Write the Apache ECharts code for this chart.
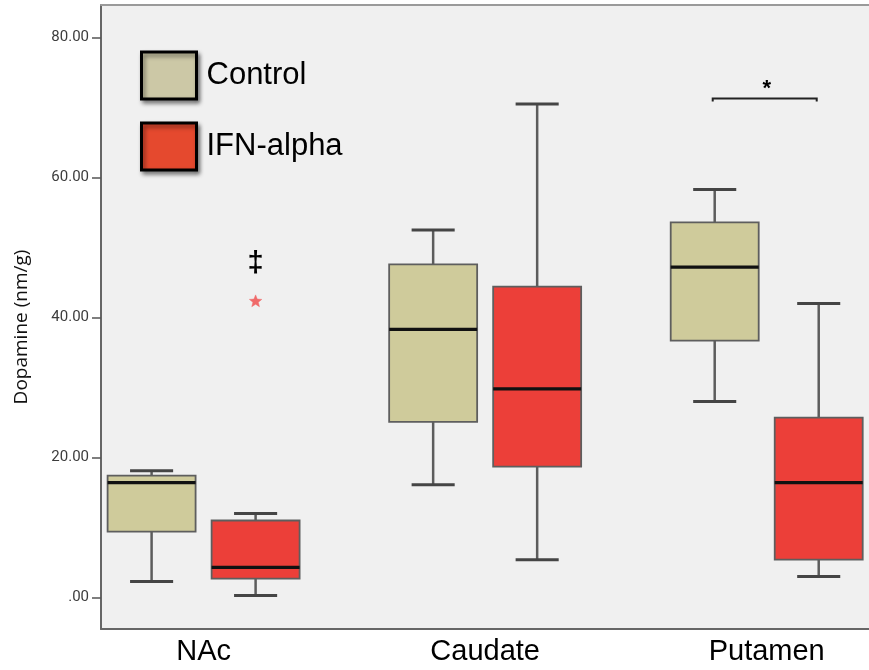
<!DOCTYPE html>
<html>
<head>
<meta charset="utf-8">
<script src="https://cdn.jsdelivr.net/npm/echarts@6/dist/echarts.min.js"></script>
<style>
  html, body { margin: 0; padding: 0; background: #ffffff; }
  #chart { width: 869px; height: 670px; }
</style>
</head>
<body>
<div id="chart"></div>
<script>
// ---- data ----
const categories = ['NAc', 'Caudate', 'Putamen'];
const seriesNames = ['Control', 'IFN-alpha'];
// [min, Q1, median, Q3, max] per category
const controlStats = [
  [2.3, 9.4, 16.4, 17.4, 18.1],
  [16.1, 25.1, 38.3, 47.6, 52.5],
  [28.0, 36.7, 47.2, 53.6, 58.3]
];
const ifnStats = [
  [0.3, 2.7, 4.3, 11.0, 12.0],
  [5.4, 18.7, 29.8, 44.4, 70.5],
  [3.0, 5.4, 16.4, 25.7, 42.0]
];
// outliers of IFN-alpha group: [category index, value]
const ifnOutliers = [[0, 42.3]];
// annotation marks: [category index, value]
const daggerMark = [0, 47.7];
const bracketMark = [2, 71.3];
const starMark = [2, 72.6];
const yTicks = [0, 20, 40, 60, 80];

// ---- styling ----
const controlFill = '#cfcb9b';
const ifnFill = '#ec3f39';
const controlLegend = '#ccc8a6';
const ifnLegend = '#e5492e';
const groupOffset = 0.1847;   // in category units
const boxWidthFrac = 0.3125;
const capWidthFrac = 0.153;

function boxRenderer(offset, fill) {
  return function (params, api) {
    const x = api.value(0) + offset;
    const unit = api.size([1, 0])[0];
    const bw = unit * boxWidthFrac;
    const cw = unit * capWidthFrac;
    const pMin = api.coord([x, api.value(1)]);
    const pQ1 = api.coord([x, api.value(2)]);
    const pMed = api.coord([x, api.value(3)]);
    const pQ3 = api.coord([x, api.value(4)]);
    const pMax = api.coord([x, api.value(5)]);
    const cx = pMed[0];
    const whisker = { stroke: '#5c5c5c', lineWidth: 2.5 };
    const cap = { stroke: '#454545', lineWidth: 3 };
    return {
      type: 'group',
      children: [
        { type: 'line', shape: { x1: cx, y1: pQ3[1], x2: cx, y2: pMax[1] }, style: whisker },
        { type: 'line', shape: { x1: cx, y1: pQ1[1], x2: cx, y2: pMin[1] }, style: whisker },
        { type: 'line', shape: { x1: cx - cw / 2, y1: pMax[1], x2: cx + cw / 2, y2: pMax[1] }, style: cap },
        { type: 'line', shape: { x1: cx - cw / 2, y1: pMin[1], x2: cx + cw / 2, y2: pMin[1] }, style: cap },
        { type: 'rect', shape: { x: cx - bw / 2, y: pQ3[1], width: bw, height: pQ1[1] - pQ3[1] },
          style: { fill: fill, stroke: '#5e5e5e', lineWidth: 1.8 } },
        { type: 'line', shape: { x1: cx - bw / 2, y1: pMed[1], x2: cx + bw / 2, y2: pMed[1] },
          style: { stroke: '#111111', lineWidth: 3.2 } }
      ]
    };
  };
}

function starPoints(cx, cy, rOut, rIn) {
  const pts = [];
  for (let k = 0; k < 10; k++) {
    const r = k % 2 === 0 ? rOut : rIn;
    const a = -Math.PI / 2 + k * Math.PI / 5;
    pts.push([cx + r * Math.cos(a), cy + r * Math.sin(a)]);
  }
  return pts;
}

function annotationRenderer(params, api) {
  const children = [];
  ifnOutliers.forEach(function (o) {
    const p = api.coord([o[0] + groupOffset, o[1]]);
    children.push({ type: 'polygon', shape: { points: starPoints(p[0], p[1], 6.5, 2.8) },
      style: { fill: '#f06a6a', stroke: 'rgba(240,106,106,0.5)', lineWidth: 1 } });
  });
  const pd = api.coord([daggerMark[0] + groupOffset, daggerMark[1]]);
  children.push({ type: 'text', x: pd[0], y: pd[1],
    style: { text: '‡', fill: '#000', font: 'bold 29px "Liberation Sans"', align: 'center', verticalAlign: 'middle' } });
  const pl = api.coord([bracketMark[0] - groupOffset, bracketMark[1]]);
  const pr = api.coord([bracketMark[0] + groupOffset, bracketMark[1]]);
  children.push({ type: 'polyline',
    shape: { points: [[pl[0] - 2, pl[1] + 3], [pl[0] - 2, pl[1]], [pr[0] - 2, pr[1]], [pr[0] - 2, pr[1] + 3]] },
    style: { stroke: '#222', lineWidth: 2, fill: null } });
  const ps = api.coord([starMark[0], starMark[1]]);
  children.push({ type: 'text', x: ps[0], y: ps[1],
    style: { text: '*', fill: '#000', font: 'bold 22px "Liberation Sans"', align: 'center', verticalAlign: 'middle' } });
  return { type: 'group', children: children };
}

const chart = echarts.init(document.getElementById('chart'), null, { renderer: 'canvas' });

const option = {
  animation: false,
  backgroundColor: '#ffffff',
  grid: {
    left: 101, top: 5, right: 0, bottom: 41,
    show: true, backgroundColor: '#f0f0f0', borderWidth: 0
  },
  legend: {
    orient: 'vertical', left: 140, top: 50.5, padding: 0,
    icon: 'rect', itemWidth: 55, itemHeight: 47, itemGap: 21,
    selectedMode: false,
    textStyle: { fontSize: 31, color: '#000', fontFamily: '"Liberation Sans", Arial, sans-serif', padding: [0, 0, 10, 5] },
    itemStyle: { borderColor: '#000', borderWidth: 3, shadowBlur: 4, shadowColor: 'rgba(0,0,0,0.45)', shadowOffsetX: 2, shadowOffsetY: 3 },
    data: [
      { name: seriesNames[0], itemStyle: { color: controlLegend, borderColor: '#000', borderWidth: 3 } },
      { name: seriesNames[1], itemStyle: { color: ifnLegend, borderColor: '#000', borderWidth: 3 } }
    ]
  },
  xAxis: [{
    type: 'value', min: -0.3644, max: 2.3633, position: 'bottom',
    splitLine: { show: false },
    axisLine: { show: true, onZero: false, lineStyle: { color: '#666', width: 2 } },
    axisTick: { show: false },
    axisLabel: {
      customValues: [0, 1, 2],
      formatter: function (v) { return categories[Math.round(v)]; },
      fontSize: 29, color: '#000', fontFamily: '"Liberation Sans", Arial, sans-serif', margin: 8
    }
  }, {
    type: 'value', min: -0.3644, max: 2.3633, position: 'top',
    splitLine: { show: false },
    axisLine: { show: true, onZero: false, lineStyle: { color: '#9a9a9a', width: 2 } },
    axisTick: { show: false },
    axisLabel: { show: false }
  }],
  yAxis: {
    type: 'value', min: -4.5, max: 84.64,
    splitLine: { show: false },
    axisLine: { show: true, onZero: false, lineStyle: { color: '#666', width: 2 } },
    axisTick: { show: true, customValues: yTicks, length: 9, lineStyle: { color: '#555', width: 1.5 } },
    axisLabel: {
      customValues: yTicks,
      formatter: function (v) { return v === 0 ? '.00' : v.toFixed(2); },
      fontSize: 15, color: '#3c3c3c', fontFamily: 'Roboto, sans-serif', margin: 12
    }
  },
  graphic: [{
    type: 'text', x: 22, y: 327, rotation: Math.PI / 2,
    style: { text: 'Dopamine (nm/g)', fill: '#111', font: '19px "Open Sans"', align: 'center', verticalAlign: 'middle' }
  }],
  series: [
    { name: seriesNames[0], type: 'custom', renderItem: boxRenderer(-groupOffset, controlFill),
      itemStyle: { color: controlLegend }, data: controlStats.map(function (s, i) { return [i].concat(s); }) },
    { name: seriesNames[1], type: 'custom', renderItem: boxRenderer(groupOffset, ifnFill),
      itemStyle: { color: ifnLegend }, data: ifnStats.map(function (s, i) { return [i].concat(s); }) },
    { name: 'annotations', type: 'custom', renderItem: annotationRenderer, silent: true, data: [[0]] }
  ]
};
chart.setOption(option);
</script>
</body>
</html>
